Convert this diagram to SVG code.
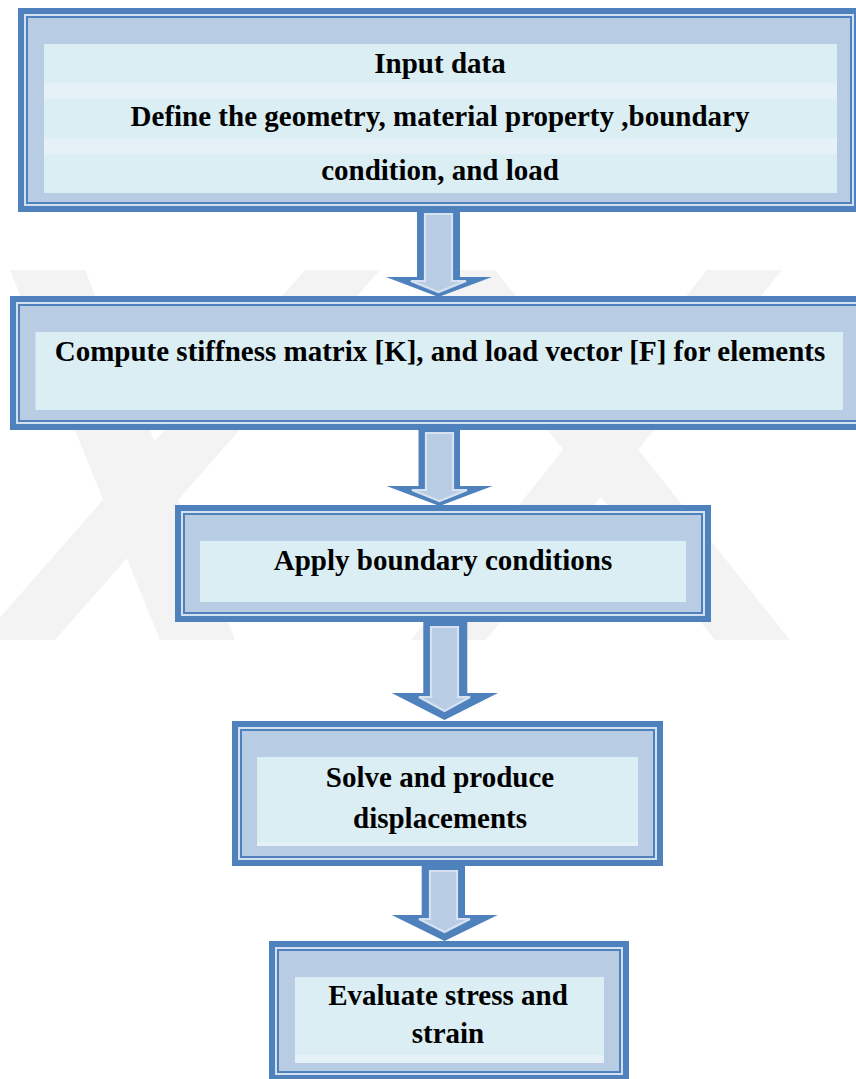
<svg xmlns="http://www.w3.org/2000/svg" width="856" height="1079" viewBox="0 0 856 1079">
<style>
.wm{fill:#f3f3f3}
.d{fill:#4f81bd}
.l{fill:#d3e0f0}
.f{fill:#b8cce4}
.i{fill:#daeef3}
.s{fill:#e5f1f6}
.ai{fill:#b8cce4;stroke:#d6e2f1;stroke-width:2.2;stroke-linejoin:miter}
text{font-family:"Liberation Serif","Times New Roman",serif;font-weight:bold;font-size:29px;fill:#000;text-anchor:middle}
</style>
<rect width="856" height="1079" fill="#fff"/>
<g id="watermark">
<polygon class="wm" points="10,270 85,270 235,640 160,640"/>
<polygon class="wm" points="305,270 380,270 55,640 -20,640"/>
<polygon class="wm" points="420,270 495,270 790,640 715,640"/>
<polygon class="wm" points="707,270 782,270 486,640 411,640"/>
</g>
<g id="connectors">
<g id="arrow1">
<polygon class="d" points="417,210 460,210 460,277 492,277 438.5,297 386,277 417,277"/>
<polygon class="ai" points="425,214 452,214 452,281 466,281 438.5,292 411,281 425,281"/>
</g>
<g id="arrow2">
<polygon class="d" points="418.5,428 460,428 460,486 492.5,486 439.5,506 386.5,486 418.5,486"/>
<polygon class="ai" points="426,433 453,433 453,490 467,490 439.5,501 412,490 426,490"/>
</g>
<g id="arrow3">
<polygon class="d" points="423.3,620 467.3,620 467.3,693 498,693 444.5,720 391.7,693 423.3,693"/>
<polygon class="ai" points="431,627 458,627 458,697 470,697 444.5,711 419,697 431,697"/>
</g>
<g id="arrow4">
<polygon class="d" points="421.7,864 465,864 465,915 497.7,915 444.5,941 391.7,915 421.7,915"/>
<polygon class="ai" points="430,871 457,871 457,919 470,919 444.5,932 419,919 430,919"/>
</g>
</g>
<g id="node1">
<rect class="d" x="18" y="8" width="842" height="204"/>
<rect class="l" x="24" y="14" width="830" height="192"/>
<rect class="d" x="26" y="16" width="826" height="188"/>
<rect class="f" x="28" y="18" width="822" height="184"/>
<rect class="i" x="44" y="44" width="793" height="149"/>
<rect class="s" x="44" y="83" width="793" height="16"/>
<rect class="s" x="44" y="138" width="793" height="16"/>
<text x="440" y="73">Input data</text>
<text x="440" y="126">Define the geometry, material property ,boundary</text>
<text x="440" y="180">condition, and load</text>
</g>
<g id="node2">
<rect class="d" x="10" y="296" width="860" height="134"/>
<rect class="l" x="16" y="302" width="848" height="122"/>
<rect class="d" x="18" y="304" width="844" height="118"/>
<rect class="f" x="20" y="306" width="840" height="114"/>
<rect class="i" x="35.5" y="332" width="807.5" height="78"/>
<text x="440" y="361">Compute stiffness matrix [K], and load vector [F] for elements</text>
</g>
<g id="node3">
<rect class="d" x="175" y="505" width="536" height="117"/>
<rect class="l" x="181" y="511" width="524" height="105"/>
<rect class="d" x="183" y="513" width="520" height="101"/>
<rect class="f" x="185" y="515" width="516" height="97"/>
<rect class="i" x="200" y="541" width="486" height="61"/>
<text x="443" y="570">Apply boundary conditions</text>
</g>
<g id="node4">
<rect class="d" x="232" y="721" width="431" height="145"/>
<rect class="l" x="238" y="727" width="419" height="133"/>
<rect class="d" x="240" y="729" width="415" height="129"/>
<rect class="f" x="242" y="731" width="411" height="125"/>
<rect class="i" x="257" y="757" width="381" height="89"/>
<rect class="s" x="257" y="842" width="381" height="4"/>
<text x="440" y="787">Solve and produce</text>
<text x="440" y="828">displacements</text>
</g>
<g id="node5">
<rect class="d" x="269" y="941" width="360" height="140"/>
<rect class="l" x="275" y="947" width="348" height="128"/>
<rect class="d" x="277" y="949" width="344" height="124"/>
<rect class="f" x="279" y="951" width="340" height="120"/>
<rect class="i" x="295" y="977" width="309" height="86"/>
<rect class="s" x="295" y="1055" width="309" height="8"/>
<text x="448" y="1005">Evaluate stress and</text>
<text x="448" y="1043">strain</text>
</g>
</svg>
